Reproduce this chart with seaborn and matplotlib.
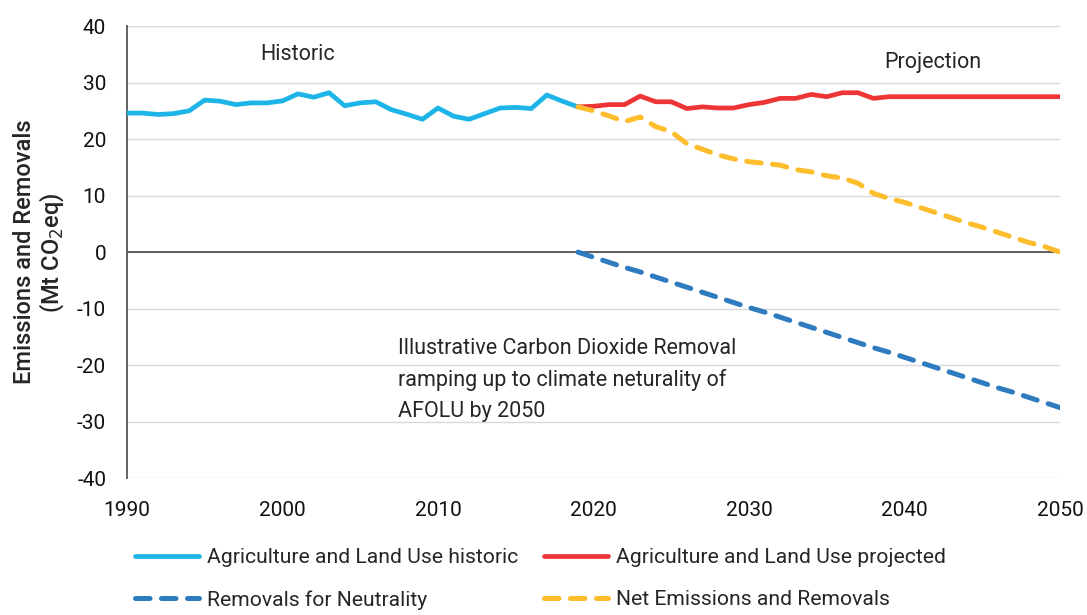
import numpy as np
import pandas as pd
import seaborn as sns
import matplotlib
matplotlib.use("Agg")
import matplotlib.pyplot as plt

# data (Mt CO2eq)
hist_years = list(range(1990, 2020))
hist_vals = [24.6, 24.6, 24.35, 24.5, 25.0, 26.9, 26.7, 26.1, 26.4, 26.4,
             26.75, 28.0, 27.4, 28.2, 25.9, 26.4, 26.6, 25.2, 24.4, 23.5,
             25.5, 24.05, 23.5, 24.5, 25.5, 25.6, 25.4, 27.8, 26.7, 25.7]

proj_years = list(range(2019, 2051))
proj_vals = [25.7, 25.8, 26.1, 26.1, 27.6, 26.6, 26.6, 25.4, 25.7, 25.5,
             25.5, 26.1, 26.5, 27.2, 27.2, 27.9, 27.5, 28.2, 28.2, 27.2,
             27.5, 27.5, 27.5, 27.5, 27.5, 27.5, 27.5, 27.5, 27.5, 27.5,
             27.5, 27.5]

removal_vals = [0.0, -0.9, -1.8, -2.7, -3.5, -4.4, -5.3, -6.2, -7.1, -8.0,
                -8.9, -9.8, -10.6, -11.5, -12.4, -13.3, -14.2, -15.1, -16.0, -16.9,
                -17.7, -18.6, -19.5, -20.4, -21.3, -22.2, -23.1, -24.0, -24.8, -25.7,
                -26.6, -27.5]

net_vals = [25.7, 25.0, 24.1, 23.1, 23.9, 22.2, 21.3, 19.2, 18.2, 17.2,
            16.5, 16.0, 15.7, 15.4, 14.6, 14.2, 13.5, 13.1, 12.2, 10.4,
            9.5, 8.8, 7.9, 7.0, 6.1, 5.2, 4.4, 3.5, 2.6, 1.7,
            1.0, 0.0]

x_ticks = [1990, 2000, 2010, 2020, 2030, 2040, 2050]
y_ticks = [-40, -30, -20, -10, 0, 10, 20, 30, 40]

C_HIST = "#1db4e8"
C_PROJ = "#ee3535"
C_REM = "#2e7bbf"
C_NET = "#fdbd2c"

sns.set_style("white")
plt.rcParams["font.family"] = ["Roboto", "DejaVu Sans"]
plt.rcParams["axes.unicode_minus"] = False

fig = plt.figure(figsize=(10.87, 6.15), dpi=100)
ax = fig.add_axes([0.1168, 0.2223, 0.8584, 0.7354])

hist = pd.DataFrame({"year": hist_years, "value": hist_vals})
proj = pd.DataFrame({"year": proj_years, "value": proj_vals})
rem = pd.DataFrame({"year": proj_years, "value": removal_vals})
net = pd.DataFrame({"year": proj_years, "value": net_vals})

ax.axhline(0, color="#555555", lw=1.3, zorder=1)

sns.lineplot(data=hist, x="year", y="value", ax=ax, color=C_HIST, lw=3.4,
             label="Agriculture and Land Use historic", zorder=3)
sns.lineplot(data=rem, x="year", y="value", ax=ax, color=C_REM, lw=3.6,
             label="Removals for Neutrality", zorder=3)
sns.lineplot(data=proj, x="year", y="value", ax=ax, color=C_PROJ, lw=3.4,
             label="Agriculture and Land Use projected", zorder=3)
sns.lineplot(data=net, x="year", y="value", ax=ax, color=C_NET, lw=3.6,
             label="Net Emissions and Removals", zorder=4)

# dashed style for removals and net lines
for ln in (ax.lines[2], ax.lines[4]):
    ln.set_dashes((2.9, 2.3))
    ln.set_dash_capstyle("round")

ax.set_xlim(1990, 2050)
ax.set_ylim(-40, 40)
ax.set_xticks(x_ticks)
ax.set_yticks(y_ticks)
ax.grid(axis="y", color="#d9d9d9", lw=1)
ax.set_axisbelow(True)
ax.tick_params(axis="both", length=0, labelsize=15, colors="#111111")
ax.tick_params(axis="x", pad=16)
ax.tick_params(axis="y", pad=15)

for s in ("top", "right", "bottom"):
    ax.spines[s].set_visible(False)
ax.spines["left"].set_color("#555555")
ax.spines["left"].set_linewidth(1.3)

ax.set_xlabel("")
ax.set_ylabel("Emissions and Removals\n(Mt CO$_2$eq)", fontsize=17,
              linespacing=1.05, labelpad=8, fontweight="medium")

ax.text(2001.0, 34.9, "Historic", fontsize=15.5, ha="center", va="center")
ax.text(2041.8, 33.6, "Projection", fontsize=15.5, ha="center", va="center")
ax.text(2007.4, -22.6, "Illustrative Carbon Dioxide Removal\n"
        "ramping up to climate neturality of\nAFOLU by 2050",
        fontsize=15.5, ha="left", va="center", linespacing=1.6)

h, l = ax.get_legend_handles_labels()
ax.legend(h, l, ncol=2, loc="upper left", bbox_to_anchor=(0.1165, 0.122),
          bbox_transform=fig.transFigure, frameon=False, fontsize=15.2,
          handlelength=3.05, handletextpad=0.38, columnspacing=1.2,
          labelspacing=1.08, borderaxespad=0)

fig.savefig("out.png", dpi=100)
